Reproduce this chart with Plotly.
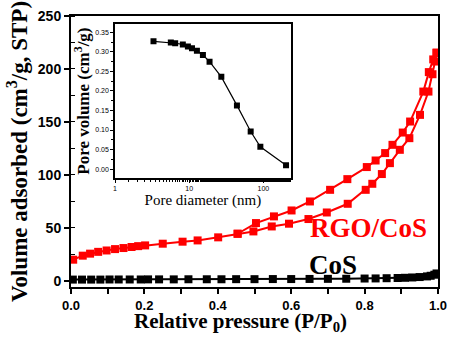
import plotly.graph_objects as go

# RGO/CoS adsorption branch
ads_p = [0.006, 0.032, 0.052, 0.074, 0.097, 0.12, 0.143, 0.165, 0.183, 0.202, 0.25, 0.304, 0.345, 0.401,
         0.454, 0.497, 0.547, 0.594, 0.647, 0.697, 0.754, 0.803, 0.821, 0.847, 0.869, 0.896, 0.922, 0.951,
         0.974, 0.985, 0.992, 0.996]
ads_v = [19.8, 23.6, 25.5, 27.2, 28.5, 29.8, 30.8, 31.8, 32.6, 33.3, 34.9, 36.8, 38.0, 40.9,
         44.3, 46.5, 51.2, 53.8, 58.2, 64.4, 72.6, 85.8, 91.5, 100.7, 111.0, 123.6, 134.6, 156.6,
         178.6, 195.0, 207.0, 215.0]
# RGO/CoS desorption branch
des_p = [0.996, 0.987, 0.975, 0.960, 0.924, 0.904, 0.876, 0.856, 0.830, 0.806, 0.753, 0.706, 0.651,
         0.601, 0.553, 0.504, 0.454]
des_v = [215.5, 209.0, 197.0, 178.6, 150.3, 139.9, 128.3, 120.5, 113.5, 107.3, 95.9, 85.8, 74.8,
         66.3, 60.7, 54.4, 44.3]
# CoS
cos_p = [0.005, 0.03, 0.055, 0.08, 0.105, 0.13, 0.16, 0.19, 0.21, 0.24, 0.28, 0.32, 0.37, 0.41, 0.45,
         0.5, 0.55, 0.6, 0.65, 0.7, 0.75, 0.8, 0.83, 0.86, 0.89, 0.91, 0.93, 0.95, 0.97, 0.98, 0.99, 0.996]
cos_v = [1.0, 1.0, 1.0, 1.0, 1.1, 1.1, 1.1, 1.1, 1.2, 1.2, 1.2, 1.3, 1.3, 1.3, 1.4,
         1.4, 1.5, 1.5, 1.6, 1.7, 1.8, 2.0, 2.1, 2.3, 2.5, 2.7, 3.0, 3.4, 4.0, 4.6, 5.6, 6.8]
# Inset: pore volume vs pore diameter
pore_d = [3.3, 5.65, 6.47, 8.2, 9.6, 10.9, 12.7, 15.3, 18.8, 27.1, 44, 67.4, 91, 202]
pore_v = [0.327, 0.324, 0.322, 0.319, 0.314, 0.309, 0.303, 0.292, 0.275, 0.236, 0.163, 0.096, 0.057, 0.010]

x_ticks = [0.0, 0.2, 0.4, 0.6, 0.8, 1.0]
y_ticks = [0, 50, 100, 150, 200, 250]
inset_y_ticks = [0.0, 0.05, 0.10, 0.15, 0.20, 0.25, 0.30, 0.35]

RED = "#ff0000"
fig = go.Figure()
fig.add_trace(go.Scatter(x=cos_p, y=cos_v, mode="lines+markers",
                         line=dict(color="black", width=2),
                         marker=dict(symbol="square", size=8, color="black"), showlegend=False))
fig.add_trace(go.Scatter(x=ads_p, y=ads_v, mode="lines+markers",
                         line=dict(color=RED, width=2),
                         marker=dict(symbol="square", size=8, color=RED), showlegend=False))
fig.add_trace(go.Scatter(x=des_p, y=des_v, mode="lines+markers",
                         line=dict(color=RED, width=2),
                         marker=dict(symbol="square", size=8, color=RED), showlegend=False))
fig.add_trace(go.Scatter(x=pore_d, y=pore_v, mode="lines+markers", xaxis="x2", yaxis="y2",
                         line=dict(color="black", width=1.2),
                         marker=dict(symbol="square", size=6, color="black"), showlegend=False))

tickfont = dict(family="Liberation Sans", size=14, color="black")
fig.update_layout(
    width=449, height=337,
    margin=dict(l=71, r=11, t=16, b=50),
    paper_bgcolor="white", plot_bgcolor="white",
    xaxis=dict(range=[0, 1], tickvals=x_ticks, ticktext=[f"<b>{v:.1f}</b>" for v in x_ticks],
               showline=True, linecolor="black", linewidth=2, mirror=True, automargin=False,
               ticks="outside", ticklen=5, tickwidth=1.5, tickcolor="black",
               minor=dict(dtick=0.1, ticks="outside", ticklen=5, tickwidth=1.5, tickcolor="black"),
               showgrid=False, zeroline=False, tickfont=dict(family="Liberation Sans", size=13, color="black")),
    yaxis=dict(range=[-6, 250], tickvals=y_ticks, ticktext=[f"<b>{v}</b>" for v in y_ticks],
               showline=True, linecolor="black", linewidth=2, mirror=True, automargin=False,
               ticks="outside", ticklen=5, tickwidth=1.5, tickcolor="black",
               minor=dict(dtick=25, ticks="inside", ticklen=4, tickwidth=1, tickcolor="black"),
               showgrid=False, zeroline=False, tickfont=tickfont,
               title=dict(text="<b>Volume adsorbed (cm<sup>3</sup>/g, STP)</b>",
                          font=dict(family="Liberation Serif", size=23, color="black"), standoff=4)),
    xaxis2=dict(type="log", range=[0, 2.37], domain=[0.12, 0.599], anchor="y2", automargin=False,
                tickvals=[1, 10, 100], ticktext=["1", "10", "100"],
                showline=True, linecolor="black", linewidth=1.5, mirror=True,
                ticks="outside", ticklen=3, tickwidth=1, tickcolor="black",
                minor=dict(ticks="outside", ticklen=2, tickwidth=0.8, tickcolor="black", showgrid=False),
                showgrid=False, zeroline=False,
                tickfont=dict(family="Liberation Sans", size=7, color="black"),
                title=dict(text="Pore diameter (nm)",
                           font=dict(family="Liberation Serif", size=15, color="black"), standoff=1)),
    yaxis2=dict(range=[-0.023, 0.371], domain=[0.402, 0.970], anchor="x2", automargin=False,
                tickvals=inset_y_ticks, ticktext=[f"{v:.2f}" for v in inset_y_ticks],
                showline=True, linecolor="black", linewidth=1.5, mirror=True,
                ticks="outside", ticklen=3, tickwidth=1, tickcolor="black",
                minor=dict(dtick=0.025, ticks="outside", ticklen=2, tickwidth=0.8, tickcolor="black"),
                showgrid=False, zeroline=False,
                tickfont=dict(family="Liberation Sans", size=7, color="black"),
                title=dict(text="<b>Pore volume (cm<sup>3</sup>/g)</b>",
                           font=dict(family="Liberation Serif", size=17, color="black"), standoff=1)),
    annotations=[
        dict(x=0.81, y=49.7, xref="x", yref="y", text="<b>RGO/CoS</b>", showarrow=False,
             font=dict(family="Liberation Serif", size=27, color=RED)),
        dict(x=0.714, y=14.7, xref="x", yref="y", text="<b>CoS</b>", showarrow=False,
             font=dict(family="Liberation Serif", size=27, color="black")),
        dict(x=0.463, y=-0.183, xref="paper", yref="paper", xanchor="center", yanchor="bottom",
             text="<b>Relative pressure (P/P<sub>0</sub>)</b>", showarrow=False,
             font=dict(family="Liberation Serif", size=21, color="black")),
    ],
    shapes=[dict(type="rect", xref="x domain", yref="y domain", x0=0.12, x1=0.599, y0=0.402, y1=0.970,
                 fillcolor="white", line=dict(width=0), layer="below")],
)
fig.write_html("out.html", config={"displayModeBar": False},
               post_script="document.body.style.margin='0';document.body.style.padding='0';")
